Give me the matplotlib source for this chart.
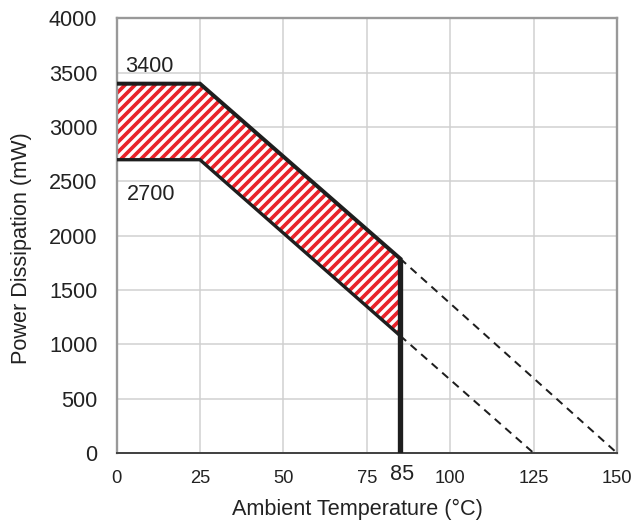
import matplotlib
matplotlib.use("Agg")
import matplotlib.pyplot as plt
import numpy as np

# Data
temp_solid = [0, 25, 85]
upper_solid = [3400, 3400, 1790]
lower_solid = [2700, 2700, 1080]
temp_upper_dash = [85, 150]
upper_dash = [1790, 0]
temp_lower_dash = [85, 125]
lower_dash = [1080, 0]
x_ticks = [0, 25, 50, 75, 100, 125, 150]
y_ticks = [0, 500, 1000, 1500, 2000, 2500, 3000, 3500, 4000]

DPI = 120
plt.rcParams['font.family'] = ['Liberation Sans', 'DejaVu Sans']
plt.rcParams['hatch.linewidth'] = 2.2

fig = plt.figure(figsize=(633 / DPI, 524 / DPI), dpi=DPI)
ax = fig.add_axes([116.5 / 633, 1 - 453 / 524, (617 - 116.5) / 633, (453 - 18.5) / 524])

ax.set_xlim(0, 150)
ax.set_ylim(0, 4000)
ax.set_xticks(x_ticks)
ax.set_yticks(y_ticks)
ax.grid(True, color='#d0d0d0', linewidth=0.9)
ax.set_axisbelow(True)
ax.tick_params(length=0, colors='#222222')
ax.tick_params(axis='x', labelsize=11, pad=10)
ax.tick_params(axis='y', labelsize=13, pad=11.5)

# Hatched area
ax.fill_between(temp_solid, lower_solid, upper_solid, facecolor='white',
                edgecolor='#e8232a', hatch='////', linewidth=0, zorder=2)

# Outlines
ax.plot(temp_solid, upper_solid, color='#1e1e1e', linewidth=2.4,
        solid_joinstyle='miter', zorder=3)
ax.plot(temp_solid, lower_solid, color='#1e1e1e', linewidth=2.0,
        solid_joinstyle='miter', zorder=3)
ax.plot(temp_upper_dash, upper_dash, color='#1e1e1e', linewidth=1.2,
        linestyle=(0, (4, 3)), zorder=3)
ax.plot(temp_lower_dash, lower_dash, color='#1e1e1e', linewidth=1.2,
        linestyle=(0, (4, 3)), zorder=3)
ax.vlines(85, 0, upper_solid[-1], color='#1e1e1e', linewidth=3.2, zorder=4)

# Annotations
ax.text(2.5, 3400 + 160, '3400', fontsize=13, color='#222222', ha='left', va='center')
ax.text(3.2, 2700 - 320, '2700', fontsize=13, color='#222222', ha='left', va='center')
ax.text(85.5, -100, '85', fontsize=13, color='#222222', ha='center', va='top',
        clip_on=False)

for side in ['top', 'right', 'left']:
    ax.spines[side].set_color('#999999')
    ax.spines[side].set_linewidth(1.4)
ax.spines['bottom'].set_color('#444444')
ax.spines['bottom'].set_linewidth(1.2)

ax.set_xlabel('Ambient Temperature (°C)', fontsize=13, color='#222222')
ax.set_ylabel('Power Dissipation (mW)', fontsize=13, color='#222222')
ax.xaxis.set_label_coords(0.4805, -0.105)
ax.yaxis.set_label_coords(-0.169, 0.472)

fig.savefig('out.png', dpi=DPI)
